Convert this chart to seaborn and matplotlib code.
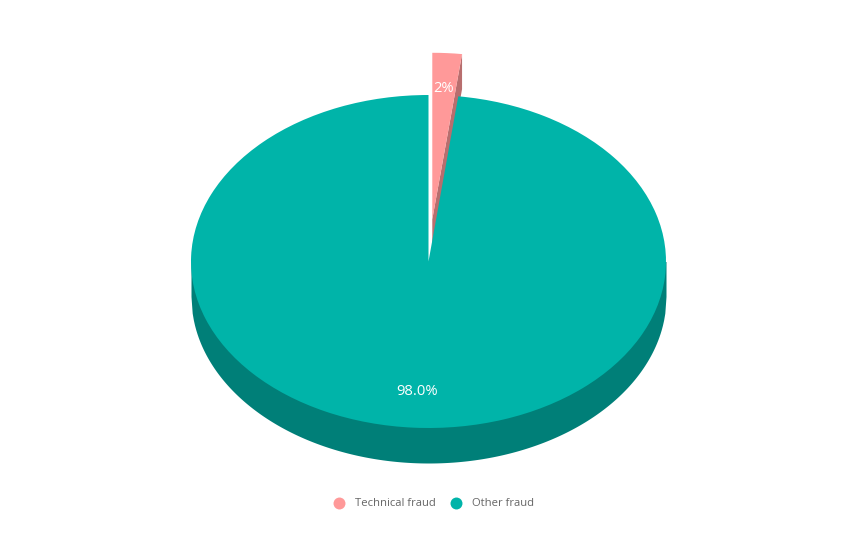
import matplotlib.pyplot as plt
import numpy as np
import seaborn as sns
from matplotlib.lines import Line2D

categories = ['Technical fraud', 'Other fraud']
values = [2, 98]
pct_labels = ['2%', '98.0%']
explode = [0.254, 0]
top_colors = ['#ff9999', '#00b4a9']
side_colors = ['#b86e6e', '#007f78']

# pie is squashed by the axis limits, 1 unit = these many pixels
RX = 237.5
RY = 166.5
CX = 428.5
CY = 261.5
WIDTH = 865
HEIGHT = 539
DEPTH = 35 / RY

sns.set_theme(style='white')
plt.rcParams['font.family'] = ['Open Sans', 'DejaVu Sans']

fig = plt.figure(figsize=(WIDTH / 100, HEIGHT / 100), dpi=100)
ax = fig.add_axes([0, 0, 1, 1])

labels_iter = iter(pct_labels)
wedges, _, autotexts = ax.pie(
    values,
    explode=explode,
    colors=top_colors,
    startangle=90,
    counterclock=False,
    autopct=lambda pct: next(labels_iter),
    pctdistance=0.785,
    wedgeprops={'linewidth': 0},
    textprops={'color': 'white', 'fontsize': 10.6},
)
ax.set_aspect('auto')
ax.set_xlim(-CX / RX, (WIDTH - CX) / RX)
ax.set_ylim((CY - HEIGHT) / RY, CY / RY)
ax.axis('off')

small, big = wedges
small.set_zorder(4)
big.set_zorder(3)
for text in autotexts:
    text.set_zorder(5)

# side of the big slice: lower half of the ellipse pushed down
xs = np.linspace(-1, 1, 400)
lower = -np.sqrt(1 - xs ** 2)
ax.fill_between(xs, lower - DEPTH, np.zeros_like(xs), color=side_colors[1], lw=0, zorder=1)

# cut face of the exploded slice, mostly hidden behind the big slice
cx, cy = small.center
edge = np.deg2rad(small.theta1)
rim = (cx + np.cos(edge), cy + np.sin(edge))
ax.fill(
    [cx, rim[0], rim[0], cx],
    [cy, rim[1], rim[1] - DEPTH, cy - DEPTH],
    color=side_colors[0],
    lw=0,
    zorder=2,
)

handles = [
    Line2D([], [], ls='', marker='o', markersize=8.6, color=color, markeredgewidth=0)
    for color in top_colors
]
ax.legend(
    handles,
    categories,
    loc='center',
    bbox_to_anchor=(431 / WIDTH, 1 - 504 / HEIGHT),
    bbox_transform=fig.transFigure,
    ncol=2,
    frameon=False,
    fontsize=8.1,
    labelcolor='#666666',
    handletextpad=0.4,
    columnspacing=0.85,
)

plt.savefig('out.png', dpi=100)
